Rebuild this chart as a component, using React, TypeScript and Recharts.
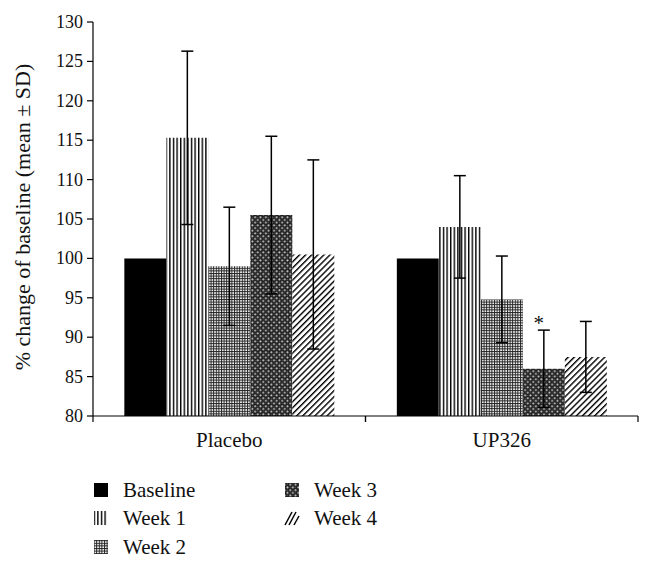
import React from "react";
import { BarChart, Bar, XAxis, YAxis, ErrorBar, LabelList } from "recharts";

const groups = ["Placebo", "UP326"];
const baseline = [100, 100];
const week1 = [115.3, 104.0];
const week2 = [99.0, 94.8];
const week3 = [105.5, 86.0];
const week4 = [100.5, 87.5];
const week1Sd = [11.0, 6.5];
const week2Sd = [7.5, 5.5];
const week3Sd = [10.0, 4.9];
const week4Sd = [12.0, 4.5];
const yTicks = [80, 85, 90, 95, 100, 105, 110, 115, 120, 125, 130];

const seriesNames = ["Baseline", "Week 1", "Week 2", "Week 3", "Week 4"];

const data = groups.map((group, i) => ({
  group,
  baseline: baseline[i],
  week1: week1[i],
  week2: week2[i],
  week3: week3[i],
  week4: week4[i],
  week1Sd: week1Sd[i],
  week2Sd: week2Sd[i],
  week3Sd: week3Sd[i],
  week4Sd: week4Sd[i],
}));

const FONT = "Liberation Serif";
const INK = "#111";

function Patterns({ prefix }: { prefix: string }) {
  return (
    <defs>
      <pattern id={`${prefix}-w1`} width={3.6} height={4} patternUnits="userSpaceOnUse">
        <rect width={3.6} height={4} fill="#fff" />
        <rect x={0} width={1.4} height={4} fill="#000" />
      </pattern>
      <pattern id={`${prefix}-w2`} width={2.6} height={2.6} patternUnits="userSpaceOnUse">
        <rect width={2.6} height={2.6} fill="#222" />
        <rect x={1} y={1} width={1.6} height={1.6} fill="#fff" />
      </pattern>
      <pattern id={`${prefix}-w3`} width={5.4} height={5.4} patternUnits="userSpaceOnUse">
        <rect width={5.4} height={5.4} fill="#1e1e1e" />
        <circle cx={1.3} cy={1.3} r={1} fill="#d0d0d0" />
        <circle cx={4} cy={4} r={1} fill="#d0d0d0" />
        <circle cx={4} cy={1.3} r={0.5} fill="#666" />
        <circle cx={1.3} cy={4} r={0.5} fill="#666" />
      </pattern>
      <pattern
        id={`${prefix}-w4`}
        width={4.3}
        height={4.3}
        patternUnits="userSpaceOnUse"
        patternTransform="rotate(45)"
      >
        <rect width={4.3} height={4.3} fill="#fff" />
        <rect x={0} width={1.4} height={4.3} fill="#000" />
      </pattern>
    </defs>
  );
}

function XTick(props: any) {
  const { x, y, payload } = props;
  const off = payload && payload.offset ? payload.offset : 136;
  return (
    <g>
      <line x1={x - off} x2={x - off} y1={y} y2={y + 6} stroke="#000" strokeWidth={1.2} />
      <line x1={x + off} x2={x + off} y1={y} y2={y + 6} stroke="#000" strokeWidth={1.2} />
      <text x={x} y={y + 31} textAnchor="middle" fontSize={21} fontFamily={FONT} fill={INK}>
        {payload.value}
      </text>
    </g>
  );
}

function YTick(props: any) {
  const { x, y, payload } = props;
  return (
    <text x={x} y={y} dy={6} textAnchor="end" fontSize={18} fontFamily={FONT} fill={INK}>
      {payload.value}
    </text>
  );
}

function YLabel(props: any) {
  const vb = props.viewBox || { x: 0, y: 0, width: 93, height: 394 };
  const cx = vb.x + 22;
  const cy = vb.y + vb.height / 2 - 2;
  return (
    <text
      x={cx}
      y={cy}
      transform={`rotate(-90, ${cx}, ${cy})`}
      textAnchor="middle"
      dominantBaseline="central"
      fontSize={22}
      fontFamily={FONT}
      fill={INK}
    >
      % change of baseline (mean ± SD)
    </text>
  );
}

function Star(props: any) {
  const { x, y, width, height, index, value } = props;
  if (index !== 1) return null;
  const ppu = height / (Number(value) - 80);
  const top = y - week3Sd[index] * ppu;
  return (
    <text x={x + width / 2 - 5} y={top} textAnchor="middle" fontSize={21} fontFamily={FONT} fill={INK}>
      *
    </text>
  );
}

const fills = ["#000", "url(#c-w1)", "url(#c-w2)", "url(#c-w3)", "url(#c-w4)"];
const legendFills = ["#000", "url(#l-w1)", "url(#l-w2)", "url(#l-w3)", "url(#l-w4)"];
const legendPos = [
  { x: 94, y: 490 },
  { x: 94, y: 518 },
  { x: 94, y: 547 },
  { x: 285, y: 490 },
  { x: 285, y: 518 },
];

function Legend() {
  return (
    <svg width={653} height={98} style={{ position: "absolute", left: 0, top: 470 }}>
      <Patterns prefix="l" />
      {seriesNames.map((name, i) => {
        const p = legendPos[i];
        const cy = p.y - 470;
        return (
          <g key={name}>
            {i === 4 ? (
              <g stroke="#000" strokeWidth={1.5}>
                <line x1={p.x} y1={cy + 7} x2={p.x + 7} y2={cy - 6} />
                <line x1={p.x + 4} y1={cy + 7} x2={p.x + 11} y2={cy - 6} />
                <line x1={p.x + 9} y1={cy + 7} x2={p.x + 14} y2={cy - 2} />
              </g>
            ) : (
              <rect x={p.x} y={cy - 7} width={14} height={14} fill={legendFills[i]} />
            )}
            <text x={p.x + 29} y={cy} dy={7} fontSize={21} fontFamily={FONT} fill={INK}>
              {name}
            </text>
          </g>
        );
      })}
    </svg>
  );
}

export default function App() {
  return (
    <div
      style={{
        position: "absolute",
        left: 0,
        top: 0,
        width: 653,
        height: 568,
        background: "#fff",
        fontFamily: FONT,
      }}
    >
      <BarChart
        width={653}
        height={470}
        data={data}
        margin={{ top: 22, right: 15, left: 0, bottom: 0 }}
        barCategoryGap="11.5%"
        barGap={0}
      >
        <Patterns prefix="c" />
        <XAxis
          dataKey="group"
          height={54}
          tickLine={false}
          tickSize={0}
          tickMargin={0}
          axisLine={{ stroke: "#000", strokeWidth: 1.2 }}
          tick={<XTick />}
          interval={0}
        />
        <YAxis
          width={93}
          domain={[80, 130]}
          ticks={yTicks}
          allowDataOverflow
          tickSize={6}
          tickMargin={4}
          axisLine={{ stroke: "#000", strokeWidth: 1.2 }}
          tickLine={{ stroke: "#000", strokeWidth: 1.2 }}
          tick={<YTick />}
          label={<YLabel />}
        />
        <Bar dataKey="baseline" fill={fills[0]} isAnimationActive={false} />
        <Bar dataKey="week1" fill={fills[1]} isAnimationActive={false}>
          <ErrorBar dataKey="week1Sd" width={6} stroke="#000" strokeWidth={1.5} />
        </Bar>
        <Bar dataKey="week2" fill={fills[2]} isAnimationActive={false}>
          <ErrorBar dataKey="week2Sd" width={6} stroke="#000" strokeWidth={1.5} />
        </Bar>
        <Bar dataKey="week3" fill={fills[3]} isAnimationActive={false}>
          <ErrorBar dataKey="week3Sd" width={6} stroke="#000" strokeWidth={1.5} />
          <LabelList dataKey="week3" content={<Star />} />
        </Bar>
        <Bar dataKey="week4" fill={fills[4]} isAnimationActive={false}>
          <ErrorBar dataKey="week4Sd" width={6} stroke="#000" strokeWidth={1.5} />
        </Bar>
      </BarChart>
      <Legend />
    </div>
  );
}
